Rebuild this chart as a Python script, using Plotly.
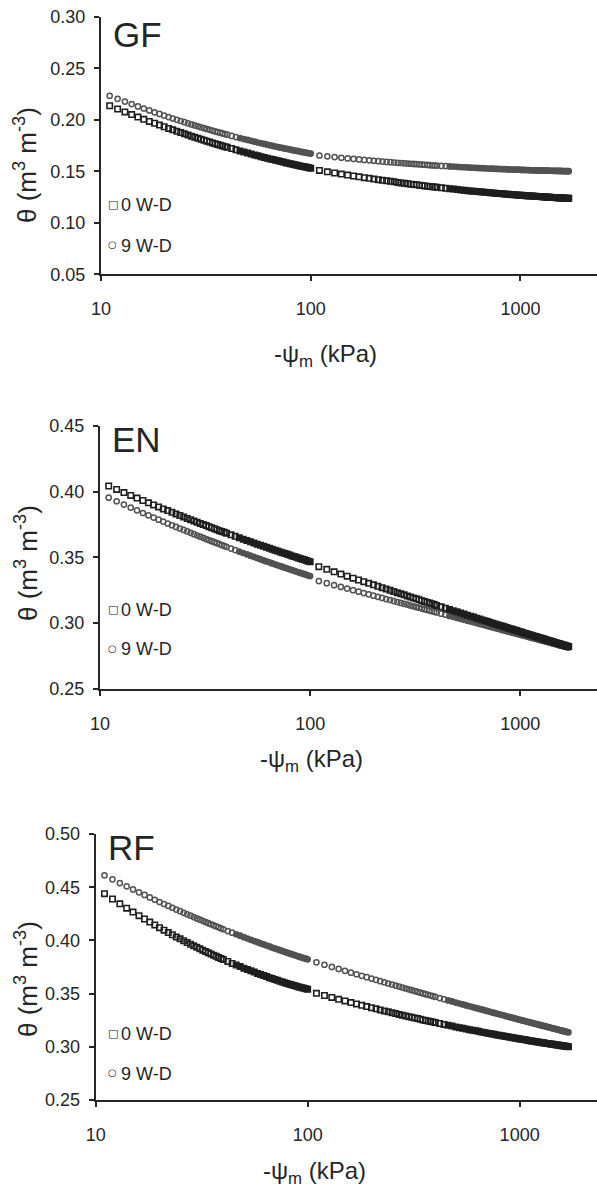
import plotly.graph_objects as go

# ---------------- data ----------------
# suction grid, kPa
PSI_LOW = [11, 12, 13, 14, 15, 16, 17, 18, 19, 20, 21, 22, 23, 24, 25, 26, 27, 28, 29, 30,
           31, 32, 33, 34, 35, 36, 37, 38, 39, 40, 42, 44, 46, 48, 50, 52, 54, 56, 58, 60,
           62, 64, 66, 68, 70, 72, 74, 76, 78, 80, 82, 84, 86, 88, 90, 92, 94, 96, 98, 100]
PSI_HIGH = [110, 120, 130, 140, 150, 160, 170, 180, 190, 200, 210, 220, 230, 240, 250, 260,
            270, 280, 290, 300, 310, 320, 330, 340, 350, 360, 370, 380, 390, 400, 420, 440,
            460, 480, 500, 520, 540, 560, 580, 600, 620, 640, 660, 680, 700, 720, 740, 760,
            780, 800, 820, 840, 860, 880, 900, 920, 940, 960, 980, 1000, 1020, 1040, 1060,
            1080, 1100, 1120, 1140, 1160, 1180, 1200, 1220, 1240, 1260, 1280, 1300, 1320,
            1340, 1360, 1380, 1400, 1420, 1440, 1460, 1480, 1500, 1520, 1540, 1560, 1580,
            1600, 1620, 1640, 1660, 1680, 1700]

# GF
GF_0WD_LOW = [0.2136, 0.2104, 0.2076, 0.2050, 0.2026, 0.2004, 0.1984, 0.1966, 0.1948, 0.1932,
              0.1916, 0.1902, 0.1888, 0.1875, 0.1863, 0.1851, 0.1840, 0.1830, 0.1820, 0.1810,
              0.1801, 0.1792, 0.1784, 0.1775, 0.1768, 0.1760, 0.1753, 0.1746, 0.1739, 0.1732,
              0.1721, 0.1708, 0.1697, 0.1686, 0.1677, 0.1667, 0.1658, 0.1650, 0.1642, 0.1634,
              0.1627, 0.1620, 0.1613, 0.1607, 0.1601, 0.1595, 0.1589, 0.1583, 0.1578, 0.1573,
              0.1568, 0.1563, 0.1558, 0.1554, 0.1549, 0.1545, 0.1541, 0.1538, 0.1534, 0.1530]
GF_9WD_LOW = [0.2233, 0.2203, 0.2176, 0.2152, 0.2129, 0.2109, 0.2090, 0.2072, 0.2056, 0.2040,
              0.2026, 0.2012, 0.1999, 0.1988, 0.1976, 0.1965, 0.1955, 0.1945, 0.1936, 0.1927,
              0.1918, 0.1910, 0.1902, 0.1895, 0.1887, 0.1880, 0.1874, 0.1867, 0.1861, 0.1855,
              0.1843, 0.1832, 0.1822, 0.1812, 0.1804, 0.1795, 0.1787, 0.1779, 0.1772, 0.1765,
              0.1758, 0.1752, 0.1746, 0.1740, 0.1735, 0.1729, 0.1724, 0.1719, 0.1715, 0.1710,
              0.1705, 0.1701, 0.1697, 0.1693, 0.1689, 0.1685, 0.1682, 0.1678, 0.1675, 0.1672]
GF_0WD_HIGH = [0.1508, 0.1495, 0.1483, 0.1473, 0.1463, 0.1454, 0.1446, 0.1438, 0.1431, 0.1424,
               0.1418, 0.1412, 0.1407, 0.1402, 0.1397, 0.1392, 0.1387, 0.1383, 0.1379, 0.1375,
               0.1372, 0.1368, 0.1365, 0.1361, 0.1358, 0.1355, 0.1352, 0.1349, 0.1347, 0.1344,
               0.1339, 0.1335, 0.1331, 0.1327, 0.1323, 0.1319, 0.1316, 0.1312, 0.1309, 0.1306,
               0.1303, 0.1301, 0.1298, 0.1296, 0.1293, 0.1291, 0.1289, 0.1287, 0.1285, 0.1283,
               0.1281, 0.1279, 0.1278, 0.1276, 0.1274, 0.1273, 0.1271, 0.1270, 0.1268, 0.1267,
               0.1266, 0.1264, 0.1263, 0.1262, 0.1261, 0.1260, 0.1259, 0.1258, 0.1257, 0.1255,
               0.1255, 0.1254, 0.1253, 0.1252, 0.1251, 0.1250, 0.1249, 0.1248, 0.1248, 0.1247,
               0.1246, 0.1245, 0.1245, 0.1244, 0.1243, 0.1242, 0.1242, 0.1241, 0.1241, 0.1240,
               0.1239, 0.1239, 0.1238, 0.1238, 0.1237]
GF_9WD_HIGH = [0.1653, 0.1645, 0.1638, 0.1631, 0.1625, 0.1620, 0.1615, 0.1610, 0.1606, 0.1602,
               0.1598, 0.1594, 0.1591, 0.1588, 0.1585, 0.1582, 0.1580, 0.1577, 0.1575, 0.1573,
               0.1571, 0.1569, 0.1567, 0.1565, 0.1563, 0.1561, 0.1559, 0.1558, 0.1556, 0.1555,
               0.1552, 0.1550, 0.1547, 0.1545, 0.1543, 0.1541, 0.1539, 0.1537, 0.1535, 0.1534,
               0.1532, 0.1531, 0.1530, 0.1528, 0.1527, 0.1526, 0.1525, 0.1524, 0.1523, 0.1522,
               0.1521, 0.1520, 0.1519, 0.1518, 0.1517, 0.1517, 0.1516, 0.1515, 0.1515, 0.1514,
               0.1513, 0.1513, 0.1512, 0.1512, 0.1511, 0.1510, 0.1510, 0.1509, 0.1509, 0.1509,
               0.1508, 0.1508, 0.1507, 0.1507, 0.1507, 0.1506, 0.1506, 0.1506, 0.1505, 0.1505,
               0.1505, 0.1504, 0.1504, 0.1504, 0.1503, 0.1503, 0.1503, 0.1503, 0.1502, 0.1502,
               0.1502, 0.1502, 0.1501, 0.1501, 0.1501]

# EN
EN_0WD_LOW = [0.4042, 0.4016, 0.3992, 0.3970, 0.3950, 0.3932, 0.3914, 0.3898, 0.3883, 0.3868,
              0.3855, 0.3842, 0.3830, 0.3818, 0.3807, 0.3796, 0.3786, 0.3776, 0.3767, 0.3758,
              0.3749, 0.3741, 0.3733, 0.3725, 0.3718, 0.3710, 0.3703, 0.3697, 0.3690, 0.3684,
              0.3671, 0.3660, 0.3648, 0.3638, 0.3628, 0.3618, 0.3609, 0.3600, 0.3592, 0.3584,
              0.3576, 0.3569, 0.3561, 0.3554, 0.3548, 0.3541, 0.3535, 0.3529, 0.3523, 0.3517,
              0.3511, 0.3506, 0.3500, 0.3495, 0.3490, 0.3485, 0.3481, 0.3476, 0.3471, 0.3467]
EN_9WD_LOW = [0.3953, 0.3926, 0.3901, 0.3878, 0.3857, 0.3837, 0.3819, 0.3802, 0.3786, 0.3772,
              0.3757, 0.3744, 0.3731, 0.3719, 0.3708, 0.3697, 0.3686, 0.3676, 0.3666, 0.3657,
              0.3648, 0.3639, 0.3631, 0.3623, 0.3615, 0.3608, 0.3601, 0.3593, 0.3587, 0.3580,
              0.3567, 0.3555, 0.3544, 0.3533, 0.3523, 0.3513, 0.3503, 0.3494, 0.3486, 0.3477,
              0.3469, 0.3462, 0.3454, 0.3447, 0.3440, 0.3434, 0.3427, 0.3421, 0.3415, 0.3409,
              0.3403, 0.3398, 0.3392, 0.3387, 0.3382, 0.3377, 0.3372, 0.3367, 0.3362, 0.3358]
EN_0WD_HIGH = [0.3429, 0.3409, 0.3390, 0.3373, 0.3357, 0.3342, 0.3328, 0.3315, 0.3303, 0.3291,
               0.3280, 0.3270, 0.3259, 0.3250, 0.3241, 0.3232, 0.3223, 0.3215, 0.3207, 0.3199,
               0.3192, 0.3185, 0.3178, 0.3171, 0.3165, 0.3159, 0.3153, 0.3147, 0.3141, 0.3135,
               0.3124, 0.3114, 0.3104, 0.3095, 0.3086, 0.3077, 0.3069, 0.3061, 0.3053, 0.3046,
               0.3038, 0.3032, 0.3025, 0.3018, 0.3012, 0.3006, 0.3000, 0.2994, 0.2988, 0.2983,
               0.2978, 0.2972, 0.2967, 0.2962, 0.2958, 0.2953, 0.2948, 0.2944, 0.2939, 0.2935,
               0.2931, 0.2926, 0.2922, 0.2918, 0.2914, 0.2911, 0.2907, 0.2903, 0.2899, 0.2896,
               0.2892, 0.2889, 0.2885, 0.2882, 0.2879, 0.2875, 0.2872, 0.2869, 0.2866, 0.2863,
               0.2860, 0.2857, 0.2854, 0.2851, 0.2848, 0.2846, 0.2843, 0.2840, 0.2837, 0.2835,
               0.2832, 0.2829, 0.2827, 0.2824, 0.2822]
EN_9WD_HIGH = [0.3320, 0.3304, 0.3289, 0.3275, 0.3263, 0.3251, 0.3239, 0.3229, 0.3219, 0.3209,
               0.3200, 0.3192, 0.3183, 0.3176, 0.3168, 0.3161, 0.3154, 0.3147, 0.3141, 0.3134,
               0.3128, 0.3122, 0.3117, 0.3111, 0.3106, 0.3101, 0.3096, 0.3091, 0.3086, 0.3081,
               0.3072, 0.3064, 0.3055, 0.3048, 0.3040, 0.3033, 0.3026, 0.3019, 0.3013, 0.3007,
               0.3001, 0.2995, 0.2989, 0.2984, 0.2978, 0.2973, 0.2968, 0.2963, 0.2958, 0.2954,
               0.2949, 0.2945, 0.2940, 0.2936, 0.2932, 0.2928, 0.2924, 0.2920, 0.2916, 0.2912,
               0.2909, 0.2905, 0.2902, 0.2898, 0.2895, 0.2892, 0.2888, 0.2885, 0.2882, 0.2879,
               0.2876, 0.2873, 0.2870, 0.2867, 0.2864, 0.2862, 0.2859, 0.2856, 0.2853, 0.2851,
               0.2848, 0.2845, 0.2843, 0.2840, 0.2838, 0.2835, 0.2833, 0.2831, 0.2828, 0.2826,
               0.2824, 0.2822, 0.2819, 0.2817, 0.2815]

# RF
RF_0WD_LOW = [0.4439, 0.4389, 0.4344, 0.4303, 0.4266, 0.4232, 0.4201, 0.4172, 0.4145, 0.4120,
              0.4096, 0.4074, 0.4053, 0.4033, 0.4015, 0.3997, 0.3980, 0.3964, 0.3949, 0.3935,
              0.3921, 0.3908, 0.3895, 0.3883, 0.3872, 0.3860, 0.3850, 0.3839, 0.3829, 0.3820,
              0.3802, 0.3784, 0.3769, 0.3754, 0.3739, 0.3726, 0.3714, 0.3702, 0.3690, 0.3680,
              0.3669, 0.3660, 0.3650, 0.3642, 0.3633, 0.3625, 0.3617, 0.3610, 0.3603, 0.3596,
              0.3589, 0.3583, 0.3577, 0.3571, 0.3565, 0.3560, 0.3555, 0.3550, 0.3545, 0.3540]
RF_9WD_LOW = [0.4612, 0.4574, 0.4539, 0.4508, 0.4479, 0.4452, 0.4427, 0.4404, 0.4382, 0.4361,
              0.4342, 0.4324, 0.4307, 0.4290, 0.4275, 0.4260, 0.4246, 0.4232, 0.4219, 0.4207,
              0.4195, 0.4184, 0.4173, 0.4162, 0.4152, 0.4142, 0.4132, 0.4123, 0.4114, 0.4105,
              0.4088, 0.4073, 0.4058, 0.4044, 0.4030, 0.4018, 0.4005, 0.3994, 0.3983, 0.3972,
              0.3962, 0.3952, 0.3943, 0.3933, 0.3925, 0.3916, 0.3908, 0.3900, 0.3893, 0.3885,
              0.3878, 0.3871, 0.3864, 0.3858, 0.3851, 0.3845, 0.3839, 0.3833, 0.3828, 0.3822]
RF_0WD_HIGH = [0.3503, 0.3482, 0.3464, 0.3446, 0.3431, 0.3416, 0.3403, 0.3390, 0.3378, 0.3367,
               0.3357, 0.3347, 0.3337, 0.3329, 0.3320, 0.3312, 0.3304, 0.3297, 0.3290, 0.3283,
               0.3277, 0.3271, 0.3265, 0.3259, 0.3253, 0.3248, 0.3243, 0.3237, 0.3233, 0.3228,
               0.3219, 0.3210, 0.3202, 0.3195, 0.3187, 0.3180, 0.3174, 0.3167, 0.3161, 0.3156,
               0.3150, 0.3145, 0.3140, 0.3135, 0.3130, 0.3125, 0.3121, 0.3117, 0.3112, 0.3108,
               0.3105, 0.3101, 0.3097, 0.3094, 0.3090, 0.3087, 0.3083, 0.3080, 0.3077, 0.3074,
               0.3071, 0.3068, 0.3066, 0.3063, 0.3060, 0.3058, 0.3055, 0.3053, 0.3050, 0.3048,
               0.3045, 0.3043, 0.3041, 0.3039, 0.3037, 0.3034, 0.3032, 0.3030, 0.3028, 0.3026,
               0.3025, 0.3023, 0.3021, 0.3019, 0.3017, 0.3016, 0.3014, 0.3012, 0.3010, 0.3009,
               0.3007, 0.3006, 0.3004, 0.3003, 0.3001]
RF_9WD_HIGH = [0.3794, 0.3771, 0.3751, 0.3732, 0.3714, 0.3697, 0.3682, 0.3667, 0.3654, 0.3641,
               0.3629, 0.3617, 0.3606, 0.3595, 0.3585, 0.3575, 0.3566, 0.3557, 0.3548, 0.3540,
               0.3532, 0.3524, 0.3517, 0.3509, 0.3502, 0.3495, 0.3489, 0.3482, 0.3476, 0.3470,
               0.3458, 0.3447, 0.3436, 0.3426, 0.3416, 0.3407, 0.3398, 0.3389, 0.3381, 0.3373,
               0.3365, 0.3358, 0.3351, 0.3344, 0.3337, 0.3331, 0.3324, 0.3318, 0.3312, 0.3306,
               0.3300, 0.3295, 0.3289, 0.3284, 0.3279, 0.3274, 0.3269, 0.3264, 0.3259, 0.3255,
               0.3250, 0.3246, 0.3242, 0.3237, 0.3233, 0.3229, 0.3225, 0.3221, 0.3217, 0.3214,
               0.3210, 0.3206, 0.3203, 0.3199, 0.3196, 0.3192, 0.3189, 0.3186, 0.3182, 0.3179,
               0.3176, 0.3173, 0.3170, 0.3167, 0.3164, 0.3161, 0.3158, 0.3155, 0.3152, 0.3149,
               0.3147, 0.3144, 0.3141, 0.3139, 0.3136]

PANEL_NAMES = ["GF", "EN", "RF"]
SERIES_NAMES = ["0 W-D", "9 W-D"]
Y_TICKS = [[0.05, 0.10, 0.15, 0.20, 0.25, 0.30],
           [0.25, 0.30, 0.35, 0.40, 0.45],
           [0.25, 0.30, 0.35, 0.40, 0.45, 0.50]]
X_TICKS = [10, 100, 1000]
X_TICK_TEXT = ["10", "100", "1000"]

DATA = {
    "GF": {"0 W-D": (GF_0WD_LOW, GF_0WD_HIGH), "9 W-D": (GF_9WD_LOW, GF_9WD_HIGH)},
    "EN": {"0 W-D": (EN_0WD_LOW, EN_0WD_HIGH), "9 W-D": (EN_9WD_LOW, EN_9WD_HIGH)},
    "RF": {"0 W-D": (RF_0WD_LOW, RF_0WD_HIGH), "9 W-D": (RF_9WD_LOW, RF_9WD_HIGH)},
}
for p in DATA.values():
    for lo, hi in p.values():
        assert len(lo) == len(PSI_LOW) and len(hi) == len(PSI_HIGH)

# ---------------- styling / layout ----------------
W, H = 597, 1190
FONT = "Liberation Sans, Arial, Helvetica, sans-serif"
AX = "#262626"
TXT = "#262626"
STYLE = {
    "0 W-D": dict(symbol="square", size=5.4, color="#1e1e1e", lw=1.6),
    "9 W-D": dict(symbol="circle", size=5.2, color="#525252", lw=1.5),
}
# where the original hollow markers overlap so tightly that they read as a solid band
DENSE_FROM = {"low": 46, "high": 460}

# pixel geometry of each panel: (left, top, bottom)
PANELS = [(101, 16.7, 274.3), (100, 425.7, 689.0), (95.7, 834.0, 1100.0)]
YTITLE_Y = [165, 563, 979]
XTITLE_XY = [(325.7, 355), (311.7, 761), (314, 1172)]
LABEL_XY = [(110.5, 34), (109.5, 439), (106.3, 847.5)]
LEG_Y = [(204, 245), (609, 648.3), (1033.3, 1072.7)]


def px(x):
    return x / W


def py(y):
    return 1 - y / H


fig = go.Figure()
layout = dict(width=W, height=H, autosize=False,
              margin=dict(l=0, r=0, t=0, b=0, pad=0, autoexpand=False),
              paper_bgcolor="white", plot_bgcolor="white", showlegend=False,
              font=dict(family=FONT, color=TXT))
annotations = []

for i, name in enumerate(PANEL_NAMES):
    xa = "x" if i == 0 else f"x{i + 1}"
    ya = "y" if i == 0 else f"y{i + 1}"
    for s in ["9 W-D", "0 W-D"]:
        st = STYLE[s]
        lo, hi = DATA[name][s]
        for key, xs, ys in (("low", PSI_LOW, lo), ("high", PSI_HIGH, hi)):
            symbols = [st["symbol"] if x >= DENSE_FROM[key] else st["symbol"] + "-open"
                       for x in xs]
            fig.add_trace(go.Scatter(
                x=xs, y=ys, mode="markers", xaxis=xa, yaxis=ya, name=s,
                marker=dict(symbol=symbols, size=st["size"], color=st["color"],
                            line=dict(width=st["lw"], color=st["color"])),
                hoverinfo="skip"))

    left, top, bottom = PANELS[i]
    yt = Y_TICKS[i]
    layout["xaxis" if i == 0 else f"xaxis{i + 1}"] = dict(
        domain=[px(left), 1.0], anchor=ya, type="log", range=[1, 3.365],
        automargin=False,
        tickmode="array", tickvals=X_TICKS, ticktext=X_TICK_TEXT,
        ticks="outside", ticklen=5, tickwidth=2, tickcolor=AX,
        showline=True, linecolor=AX, linewidth=2, showgrid=False, zeroline=False,
        tickfont=dict(size=18, color=TXT, family=FONT), ticklabelstandoff=12)
    layout["yaxis" if i == 0 else f"yaxis{i + 1}"] = dict(
        domain=[py(bottom), py(top)], anchor=xa, range=[yt[0], yt[-1]],
        automargin=False,
        tickmode="array", tickvals=yt, ticktext=[f"{v:.2f}" for v in yt],
        ticks="outside", ticklen=5, tickwidth=2, tickcolor=AX,
        showline=True, linecolor=AX, linewidth=2, showgrid=False, zeroline=False,
        tickfont=dict(size=18, color=TXT, family=FONT), ticklabelstandoff=5)

    # y title
    annotations.append(dict(xref="paper", yref="paper", x=px(26), y=py(YTITLE_Y[i]),
                            text="θ (m<sup>3</sup> m<sup>-3</sup>)", textangle=-90,
                            showarrow=False, xanchor="center", yanchor="middle",
                            font=dict(size=26, color=TXT, family=FONT)))
    # x title
    tx, ty = XTITLE_XY[i]
    annotations.append(dict(xref="paper", yref="paper", x=px(tx), y=py(ty),
                            text="-ψ<sub>m</sub> (kPa)", showarrow=False,
                            xanchor="center", yanchor="middle",
                            font=dict(size=24, color=TXT, family=FONT)))
    # panel label
    lx, ly = LABEL_XY[i]
    annotations.append(dict(xref="paper", yref="paper", x=px(lx), y=py(ly),
                            text=name, showarrow=False, xanchor="left", yanchor="middle",
                            font=dict(size=35, color=TXT, family=FONT)))
    # legend (symbol + text)
    for s, yy, glyph, gsize in ((SERIES_NAMES[0], LEG_Y[i][0], "□", 11),
                                (SERIES_NAMES[1], LEG_Y[i][1], "○", 10)):
        annotations.append(dict(xref="paper", yref="paper", x=px(112.5), y=py(yy),
                                text=glyph, showarrow=False, xanchor="center",
                                yanchor="middle",
                                font=dict(size=gsize, color="#222222", family="DejaVu Sans")))
        annotations.append(dict(xref="paper", yref="paper", x=px(118.5), y=py(yy + 1),
                                text=s, showarrow=False, xanchor="left", yanchor="middle",
                                font=dict(size=18, color=TXT, family=FONT)))

layout["annotations"] = annotations
fig.update_layout(**layout)
fig.write_html(
    "out.html",
    config={"displayModeBar": False, "staticPlot": True},
    post_script="document.body.style.margin='0';document.body.style.padding='0';"
                "document.body.style.overflow='hidden';")
